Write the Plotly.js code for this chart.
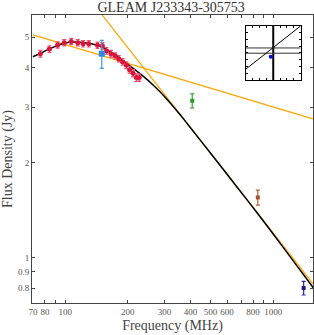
<!DOCTYPE html>
<html><head><meta charset="utf-8">
<script src="https://cdn.plot.ly/plotly-3.0.1.min.js"></script>
<style>html,body{margin:0;padding:0;background:#fff}#chart{width:314px;height:335px}</style>
</head><body><div id="chart"></div>
<script>
// GLEAM sub-band measurements
const gleamFreq=[76,84,92,99,107,115,122,130,143,151,158,166,174,181,189,197,204,212,220,227];
const gleamFlux=[4.43,4.58,4.72,4.80,4.84,4.80,4.76,4.76,4.71,4.69,4.52,4.43,4.36,4.27,4.17,4.07,3.94,3.84,3.72,3.72];
const gleamErr=[0.11,0.11,0.11,0.11,0.11,0.11,0.11,0.11,0.11,0.11,0.11,0.11,0.10,0.10,0.10,0.10,0.10,0.10,0.10,0.10];
// other surveys
const tgssFreq=[150], tgssFlux=[4.43], tgssErr=[0.45];
const mrcFreq=[408], mrcFlux=[3.14], mrcErr=[0.16];
const sumssFreq=[843], sumssFlux=[1.55], sumssErr=[0.085];
const nvssFreq=[1400], nvssFlux=[0.80], nvssErr=[0.04];
// fitted curved model, sampled from the figure
const fitFreq=[70,76,84,92,100,110,125,140,150,160,180,200,230,270,300,336,358,400,500,600,750,885,1100,1300,1513,1600];
const fitFlux=[4.33,4.44,4.585,4.70,4.79,4.82,4.80,4.73,4.66,4.55,4.32,4.10,3.82,3.48,3.24,2.975,2.83,2.58,2.14,1.835,1.52,1.32,1.09,0.940,0.822,0.782];
// power-law lines
const plShallowFreq=[70,1550], plShallowFlux=[5.08,2.75];
const plSteepFreq=[140,1600], plSteepFlux=[6.25,0.805];
// inset panel
const insetVX=[0,0], insetVY=[-1,1];
const insetH1X=[-1,1], insetH1Y=[0.185,0.185];
const insetH2X=[-1,1], insetH2Y=[-0.01,-0.01];
const insetDX=[-1,1], insetDY=[-0.6,1];
const insetPX=[-0.09], insetPY=[-0.137];
// ticks
const xTickVals=[70,80,90,100,200,300,400,500,600,700,800,900,1000];
const xTickText=['70','80','','100','200','300','400','500','600','','800','','1000'];
const yTickVals=[0.8,0.9,1,2,3,4,5];
const yTickText=['0.8','0.9','1','2','3','4','5'];

const serif='"Liberation Serif", "DejaVu Serif", serif';
const errStyle=(arr,col)=>({type:'data',array:arr,visible:true,color:col,thickness:1.2,width:2});
const traces=[
 {x:plShallowFreq,y:plShallowFlux,mode:'lines',line:{color:'#FFA500',width:1.2},hoverinfo:'skip'},
 {x:plSteepFreq,y:plSteepFlux,mode:'lines',line:{color:'#FFA500',width:1.2},hoverinfo:'skip'},
 {x:fitFreq,y:fitFlux,mode:'lines',line:{color:'#000',width:1.5,shape:'spline',smoothing:0.6}},
 {x:gleamFreq,y:gleamFlux,mode:'markers',marker:{color:'#DC143C',size:5,symbol:'circle'},error_y:errStyle(gleamErr,'#e8506e')},
 {x:tgssFreq,y:tgssFlux,mode:'markers',marker:{color:'#2b8ce0',size:6,symbol:'square'},error_y:errStyle(tgssErr,'#3a9ae8')},
 {x:mrcFreq,y:mrcFlux,mode:'markers',marker:{color:'#2e9a2e',size:4,symbol:'square'},error_y:errStyle(mrcErr,'#3aa03a')},
 {x:sumssFreq,y:sumssFlux,mode:'markers',marker:{color:'#a0522d',size:4,symbol:'square'},error_y:errStyle(sumssErr,'#b0603a')},
 {x:nvssFreq,y:nvssFlux,mode:'markers',marker:{color:'#1a1a8c',size:4,symbol:'square'},error_y:errStyle(nvssErr,'#2a2a9a')},
 {x:insetVX,y:insetVY,xaxis:'x2',yaxis:'y2',mode:'lines',line:{color:'#000',width:2}},
 {x:insetH1X,y:insetH1Y,xaxis:'x2',yaxis:'y2',mode:'lines',line:{color:'#333',width:1}},
 {x:insetH2X,y:insetH2Y,xaxis:'x2',yaxis:'y2',mode:'lines',line:{color:'#333',width:1}},
 {x:insetDX,y:insetDY,xaxis:'x2',yaxis:'y2',mode:'lines',line:{color:'#000',width:1}},
 {x:insetPX,y:insetPY,xaxis:'x2',yaxis:'y2',mode:'markers',marker:{color:'#0000ff',size:4}}
];
const layout={
 width:314,height:335,margin:{l:31.5,r:1,t:15,b:31.7},
 paper_bgcolor:'#fff',plot_bgcolor:'#fff',showlegend:false,
 font:{family:serif},
 title:{text:'GLEAM J233343-305753',font:{family:serif,size:14,color:'#333'},x:0.545,xanchor:'center',yref:'container',y:0.993,yanchor:'top',pad:{t:0,b:0}},
 xaxis:{type:'log',range:[Math.log10(69.3),3.191],tickvals:xTickVals,ticktext:xTickText,
  ticks:'inside',ticklen:3,tickcolor:'#444',mirror:'ticks',showline:true,linecolor:'#444',linewidth:1,
  showgrid:false,zeroline:false,tickfont:{family:serif,size:9,color:'#555'},
  title:{text:'Frequency (MHz)',font:{family:serif,size:14,color:'#444'},standoff:4}},
 yaxis:{type:'log',range:[-0.1445,0.769],tickvals:yTickVals,ticktext:yTickText,
  ticks:'inside',ticklen:3,tickcolor:'#444',mirror:'ticks',showline:true,linecolor:'#444',linewidth:1,
  showgrid:false,zeroline:false,tickfont:{family:serif,size:9,color:'#555'},
  title:{text:'Flux Density (Jy)',font:{family:serif,size:14,color:'#444'},standoff:4}},
 xaxis2:{domain:[0.761,0.956],anchor:'y2',range:[-1,1],showticklabels:false,ticks:'inside',ticklen:2,dtick:0.25,
  tickcolor:'#000',mirror:'ticks',showline:true,linecolor:'#000',linewidth:1,showgrid:false,zeroline:false},
 yaxis2:{domain:[0.7745,0.962],anchor:'x2',range:[-1,1],showticklabels:false,ticks:'inside',ticklen:2,dtick:0.25,
  tickcolor:'#000',mirror:'ticks',showline:true,linecolor:'#000',linewidth:1,showgrid:false,zeroline:false}
};
Plotly.newPlot('chart',traces,layout,{staticPlot:true,displayModeBar:false});
</script></body></html>
